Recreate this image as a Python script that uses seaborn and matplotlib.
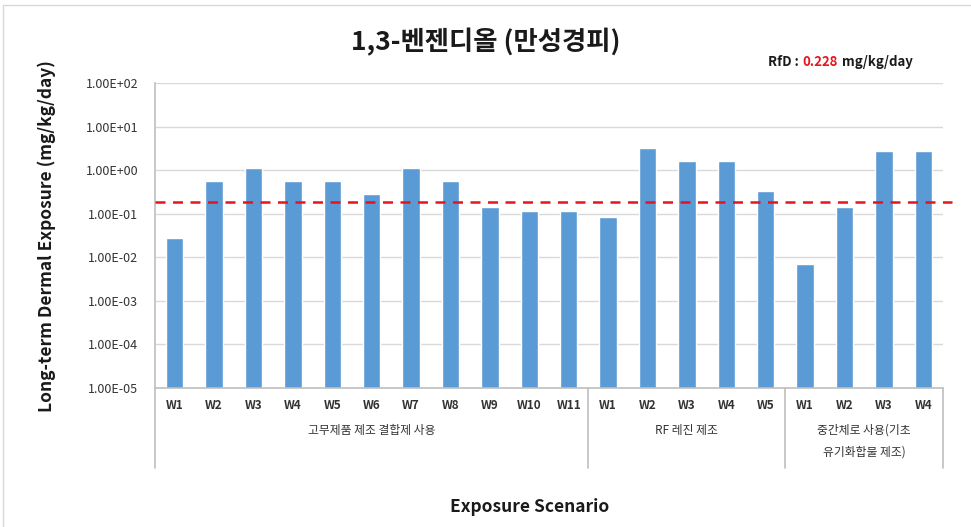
import pandas as pd
import numpy as np
import matplotlib
matplotlib.use("Agg")
import matplotlib.pyplot as plt
from matplotlib.ticker import FixedLocator, FuncFormatter, NullLocator
import seaborn as sns

# Data
groups = ["고무제품 제조 결합제 사용", "RF 레진 제조", "중간체로 사용(기초\n유기화합물 제조)"]
group_sizes = [11, 5, 4]
scenarios = ["W1", "W2", "W3", "W4", "W5", "W6", "W7", "W8", "W9", "W10", "W11",
             "W1", "W2", "W3", "W4", "W5",
             "W1", "W2", "W3", "W4"]
exposure = [0.028, 0.56, 1.1, 0.56, 0.56, 0.28, 1.1, 0.56, 0.14, 0.115, 0.115,
            0.082, 3.3, 1.6, 1.6, 0.34,
            0.0069, 0.14, 2.8, 2.8]
rfd_line = 0.185
rfd_text = "0.228"

group_col = np.repeat(groups, group_sizes)
df = pd.DataFrame({
    "group": group_col,
    "scenario": scenarios,
    "exposure": exposure,
})
df["key"] = [f"{g}|{s}" for g, s in zip(df["group"], df["scenario"])]

sns.set_theme(style="white")
plt.rcParams["font.family"] = ["Noto Sans CJK KR", "DejaVu Sans"]

fig = plt.figure(figsize=(9.71, 5.27), dpi=100)
W, H = 971, 527
x0, x1, ytop, ybot = 155, 943, 83, 388
ax = fig.add_axes([x0 / W, 1 - ybot / H, (x1 - x0) / W, (ybot - ytop) / H])

sns.barplot(data=df, x="key", y="exposure", order=list(df["key"]),
            color="#5B9BD5", saturation=1, width=0.44, ax=ax)
ax.set_yscale("log")
ax.set_ylim(1e-5, 1e2)
ax.set_xlim(-0.5, len(df) - 0.5)

ax.yaxis.set_major_locator(FixedLocator([10.0 ** k for k in range(-5, 3)]))
ax.yaxis.set_minor_locator(NullLocator())
ax.yaxis.set_major_formatter(FuncFormatter(lambda v, p: f"{v:.2E}"))
ax.tick_params(axis="y", labelsize=9, length=0, pad=12, colors="#333333")
ax.set_xticks(range(len(df)))
ax.set_xticklabels(df["scenario"], fontsize=8.5, fontweight="bold", color="#333333")
ax.tick_params(axis="x", length=0, pad=8)

ax.grid(axis="y", color="#D9D9D9", linewidth=1)
ax.set_axisbelow(True)
for side in ["top", "right"]:
    ax.spines[side].set_visible(False)
for side in ["left", "bottom"]:
    ax.spines[side].set_color("#BFBFBF")
    ax.spines[side].set_linewidth(1.2)

# RfD reference line
ax.plot([-0.5, len(df) - 0.5 + 0.23], [rfd_line, rfd_line], color="#E8141B",
        linestyle=(0, (4, 3)), linewidth=1.8, clip_on=False, zorder=5)

# multi-level category axis: group separators and labels
sep_depth = -(468 - ybot) / (ybot - ytop)
bounds = np.concatenate([[0], np.cumsum(group_sizes)]) - 0.5
trans = ax.get_xaxis_transform()
for b in bounds:
    ax.plot([b, b], [0, sep_depth], color="#BFBFBF", linewidth=1.2,
            transform=trans, clip_on=False)
for g, a, b in zip(groups, bounds[:-1], bounds[1:]):
    ax.text((a + b) / 2, -(424 - ybot) / (ybot - ytop), g, transform=trans,
            ha="center", va="top", fontsize=8.5, color="#333333", linespacing=1.9)

ax.set_xlabel("")
ax.set_ylabel("")
fig.text(47 / W, 1 - 236 / H, "Long-term Dermal Exposure (mg/kg/day)", rotation=90,
         ha="center", va="center", fontsize=12.5, fontweight="bold", color="#1a1a1a")
fig.text(530 / W, 1 - 507 / H, "Exposure Scenario", ha="center", va="center",
         fontsize=12.5, fontweight="bold", color="#1a1a1a")
fig.text(486 / W, 1 - 42 / H, "1,3-벤젠디올 (만성경피)", ha="center", va="center",
         fontsize=19, fontweight="bold", color="#1a1a1a")

# RfD annotation with coloured value
t1 = fig.text(768 / W, 1 - 62 / H, "RfD : ", ha="left", va="center",
              fontsize=9.5, fontweight="bold", color="#1a1a1a")
fig.canvas.draw()
r = fig.canvas.get_renderer()
bb = t1.get_window_extent(r)
t2 = fig.text(bb.x1 / W, 1 - 62 / H, rfd_text, ha="left", va="center",
              fontsize=9.5, fontweight="bold", color="#E8141B")
bb2 = t2.get_window_extent(r)
fig.text(bb2.x1 / W + 5 / W, 1 - 62 / H, "mg/kg/day", ha="left", va="center",
         fontsize=9.5, fontweight="bold", color="#1a1a1a")

# light chart frame
fig.add_artist(plt.Line2D([3 / W, 3 / W], [0, 1 - 5 / H], color="#D9D9D9", linewidth=1))
fig.add_artist(plt.Line2D([3 / W, 1], [1 - 5 / H, 1 - 5 / H], color="#D9D9D9", linewidth=1))

fig.savefig("out.png", dpi=100)
